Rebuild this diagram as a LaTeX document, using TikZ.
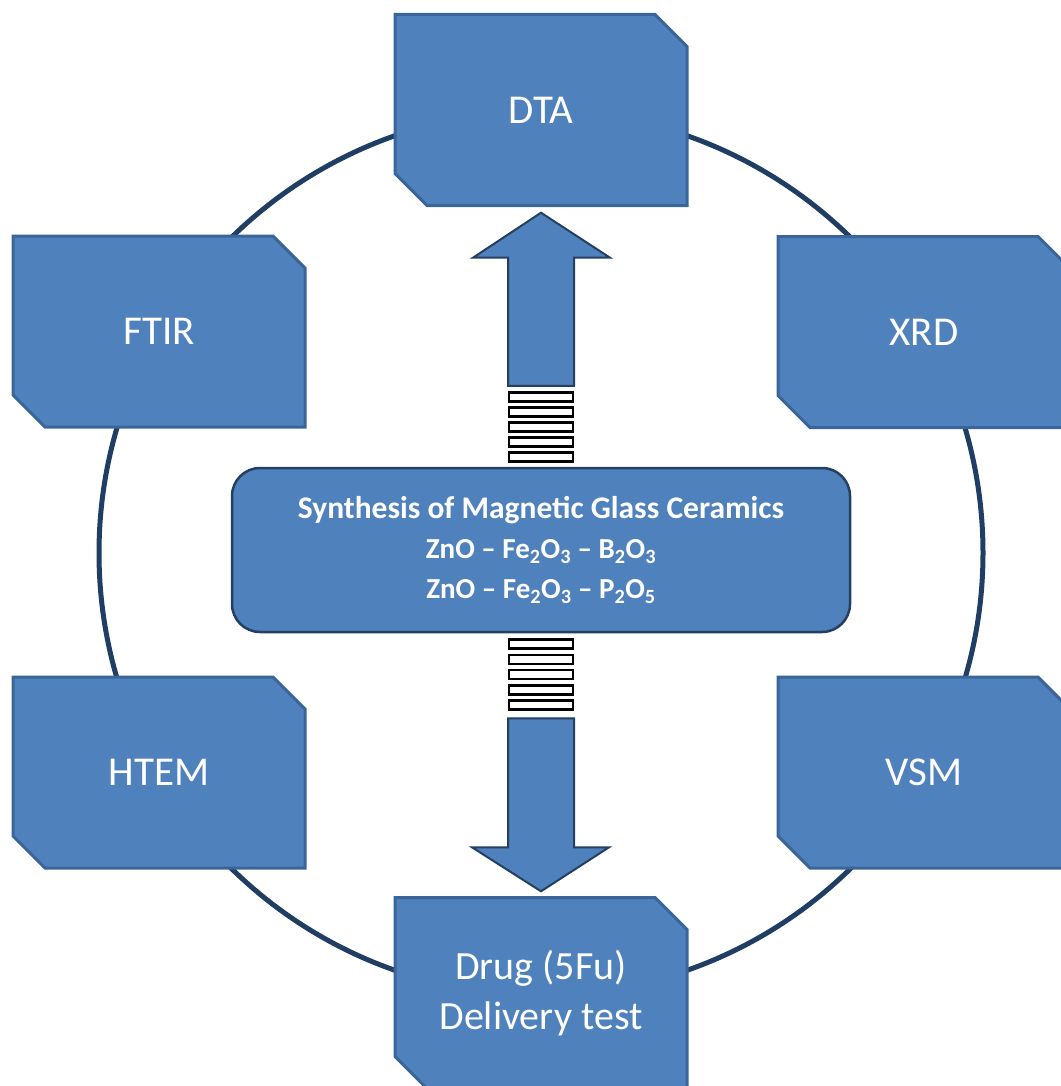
\documentclass[tikz,border=0pt]{standalone}
\usepackage{fontspec}
\setmainfont{Carlito}
\usetikzlibrary{calc}
\definecolor{boxfill}{HTML}{4F81BD}
\definecolor{boxline}{HTML}{3A6599}
\definecolor{ringline}{HTML}{203D63}
\definecolor{arrline}{HTML}{243F60}
\tikzset{
  snipfill/.style={fill=boxfill, draw=boxline, line width=3pt, line join=miter},
  boxtext/.style={text=white, align=center, minimum width=292pt, minimum height=191pt, inner sep=0pt},
  centerbox/.style={fill=boxfill, draw=arrline, line width=2.5pt, rounded corners=28pt,
     minimum width=618pt, minimum height=164pt, text=white, align=center, inner sep=0pt,
     font=\bfseries\fontsize{29}{40}\selectfont},
  blockarrow/.style={fill=boxfill, draw=arrline, line width=2pt, line join=miter},
  stripe/.style={fill=white, draw=black, line width=2.5pt, minimum width=64pt, minimum height=9pt, inner sep=0pt},
}
% name, cx, cy, font size, text
\newcommand\snipnode[5]{%
  \path[snipfill] ({#2-146},{#3-95.5}) -- ({#2+146-32},{#3-95.5}) -- ({#2+146},{#3-95.5+32})
     -- ({#2+146},{#3+95.5}) -- ({#2-146+32},{#3+95.5}) -- ({#2-146},{#3+95.5-32}) -- cycle;
  \node[boxtext, font=\fontsize{#4}{50}\selectfont] (#1) at (#2,#3) {#5};%
}
\begin{document}
\begin{tikzpicture}[x=1pt,y=-1pt]
\useasboundingbox (0,0) rectangle (1060,1086);
% ring
\draw[ringline, line width=5pt] (541,553) circle [radius=442pt];
% boxes
\snipnode{dta}{541}{110}{41}{DTA}
\snipnode{ftir}{159}{331.5}{41}{FTIR}
\snipnode{xrd}{924}{332}{41}{XRD}
\snipnode{htem}{159}{772.5}{41}{HTEM}
\snipnode{vsm}{924}{772.5}{41}{VSM}
\snipnode{drug}{541}{993}{40}{Drug (5Fu)\\Delivery test}
% centre
\node[centerbox] (syn) at (541,550)
  {{\fontsize{31.5}{40}\selectfont Synthesis of Magnetic Glass Ceramics}\\
   ZnO – Fe\textsubscript{2}O\textsubscript{3} – B\textsubscript{2}O\textsubscript{3}\\
   ZnO – Fe\textsubscript{2}O\textsubscript{3} – P\textsubscript{2}O\textsubscript{5}};
% up arrow
\coordinate (uptip) at ($(dta.south)+(0,7)$);
\coordinate (upbase) at ($(syn.north)+(0,-81)$);
\path[blockarrow] ($(upbase)+(-33,0)$) -- ($(uptip)+(-33,45)$) -- ($(uptip)+(-68,45)$)
   -- (uptip) -- ($(uptip)+(69,45)$) -- ($(uptip)+(33,45)$) -- ($(upbase)+(33,0)$) -- cycle;
% down arrow
\coordinate (dntip) at ($(drug.north)+(0,-6)$);
\coordinate (dnbase) at ($(syn.south)+(0,85)$);
\path[blockarrow] ($(dnbase)+(-33,0)$) -- ($(dntip)+(-33,-44)$) -- ($(dntip)+(-69,-44)$)
   -- (dntip) -- ($(dntip)+(68,-44)$) -- ($(dntip)+(33,-44)$) -- ($(dnbase)+(33,0)$) -- cycle;
% stripes
\foreach \i/\yy in {1/397,2/412,3/427,4/442,5/457}{
  \node[stripe] (su\i) at (541,\yy) {};
}
\foreach \i/\yy in {1/644,2/659.5,3/674.5,4/690,5/705}{
  \node[stripe] (sd\i) at (541,\yy) {};
}
\end{tikzpicture}
\end{document}
